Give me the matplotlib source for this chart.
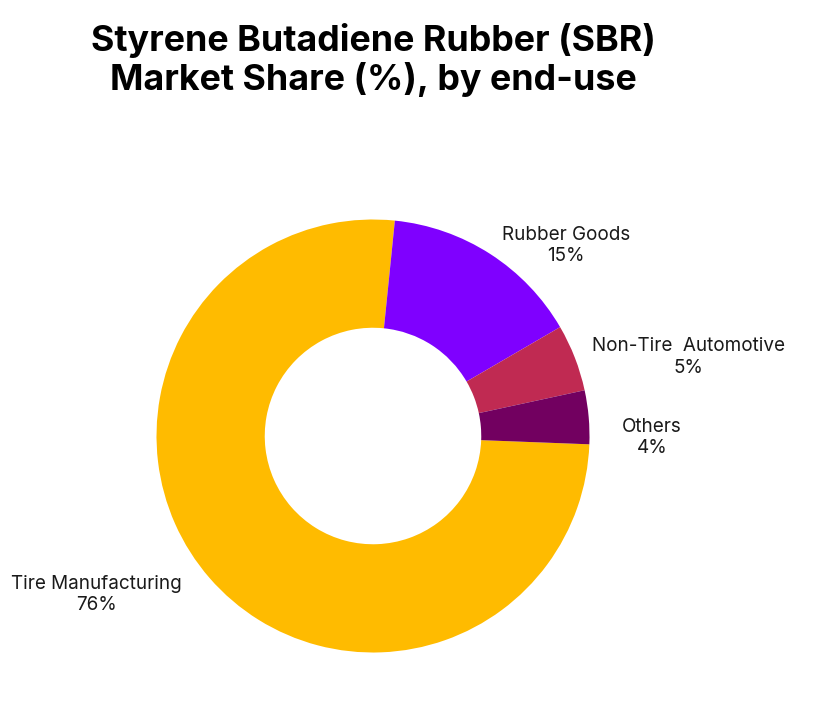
import numpy as np
import matplotlib.pyplot as plt

categories = ["Tire Manufacturing", "Rubber Goods", "Non-Tire  Automotive", "Others"]
shares = [76, 15, 5, 4]
colors = ["#FFBB00", "#7F00FF", "#C02A52", "#720060"]

plt.rcParams['font.family'] = ['Inter', 'DejaVu Sans']

fig = plt.figure(figsize=(8.31, 7.2), dpi=100)
ax = fig.add_axes([0, 0, 1, 1])

ax.pie(shares, colors=colors, startangle=-2.2, counterclock=False,
       radius=1, wedgeprops=dict(width=0.5, edgecolor='none'))

# label positions, in units of the outer radius
label_pos = [(-1.279, -0.734), (0.891, 0.878), (1.455, 0.365), (1.289, -0.005)]
for name, val, (x, y) in zip(categories, shares, label_pos):
    ax.text(x, y, f"{name}\n{val}%", ha='center', va='center',
            fontsize=13.6, color='#1a1a1a', linespacing=1.22)

r = 216.5
ax.set_xlim(-373 / r, (831 - 373) / r)
ax.set_ylim(-284 / r, 436 / r)
ax.set_aspect('equal')
ax.axis('off')

fig.text(373 / 831, 1 - 60 / 720,
         "Styrene Butadiene Rubber (SBR)\nMarket Share (%), by end-use",
         ha='center', va='center', fontsize=25.8, fontweight='bold',
         linespacing=1.12, color='black')

fig.savefig("out.png", dpi=100, facecolor='white')
